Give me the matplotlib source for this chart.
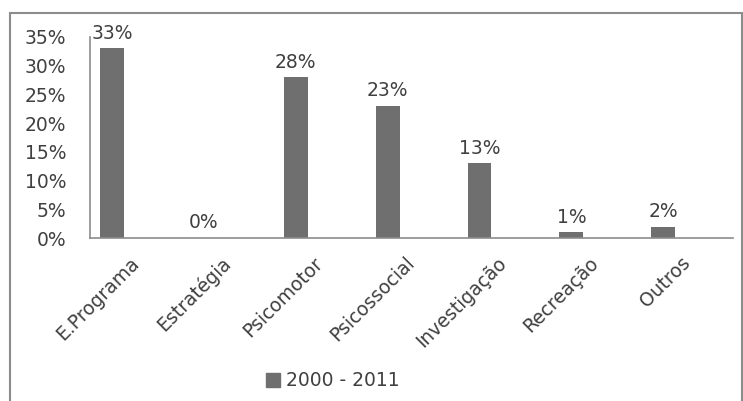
import matplotlib.pyplot as plt
from matplotlib.patches import Rectangle
from matplotlib.ticker import FuncFormatter

categorias = ["E.Programa", "Estratégia", "Psicomotor", "Psicossocial",
              "Investigação", "Recreação", "Outros"]
valores = [0.33, 0.00, 0.28, 0.23, 0.13, 0.01, 0.02]
serie = "2000 - 2011"

plt.rcParams['font.family'] = ['DejaVu Sans']
cor_texto = "#404040"
cor_barra = "#6f6f6f"
cor_linha = "#8c8c8c"
fs = 13.5

fig = plt.figure(figsize=(7.43, 4.01), dpi=100)
ax = fig.add_axes([90/743, 1-238/401, 643/743, 201/401])

# bars sit left of the category centre (second series slot is empty)
x = list(range(len(categorias)))
xb = [i - 0.26 for i in x]
ax.bar(xb, valores, width=0.26, color=cor_barra)

for xi, v in zip(xb, valores):
    ax.annotate(f"{v*100:.0f}%", (xi, v), xytext=(0, 4), textcoords="offset points",
                ha="center", va="bottom", fontsize=fs, color=cor_texto)

ax.set_xlim(-0.5, 6.5)
ax.set_ylim(0, 0.35)
ax.set_yticks([i*0.05 for i in range(8)])
ax.yaxis.set_major_formatter(FuncFormatter(lambda v, p: f"{v*100:.0f}%"))
ax.set_xticks(x)
ax.set_xticklabels(categorias, rotation=45, ha="right", va="center",
                   rotation_mode="anchor", fontsize=13)
ax.tick_params(axis="both", length=0, labelsize=fs, colors=cor_texto)
ax.tick_params(axis="x", pad=16)
ax.tick_params(axis="y", pad=17)

for s in ["top", "right"]:
    ax.spines[s].set_visible(False)
for s in ["left", "bottom"]:
    ax.spines[s].set_color(cor_linha)
    ax.spines[s].set_linewidth(1.2)

# outer chart frame
fig.patches.append(Rectangle((10/743, -0.05), 732/743, 1.05 - 13/401,
                             transform=fig.transFigure, fill=False,
                             edgecolor=cor_linha, linewidth=1.5))

leg = fig.legend([Rectangle((0, 0), 1, 1, color=cor_barra)], [serie],
                 loc="center", bbox_to_anchor=(333/743, 1-381/401),
                 frameon=False, fontsize=fs, handlelength=0.75, handleheight=0.75,
                 handletextpad=0.3)
for t in leg.get_texts():
    t.set_color(cor_texto)

fig.savefig("out.png", dpi=100)
